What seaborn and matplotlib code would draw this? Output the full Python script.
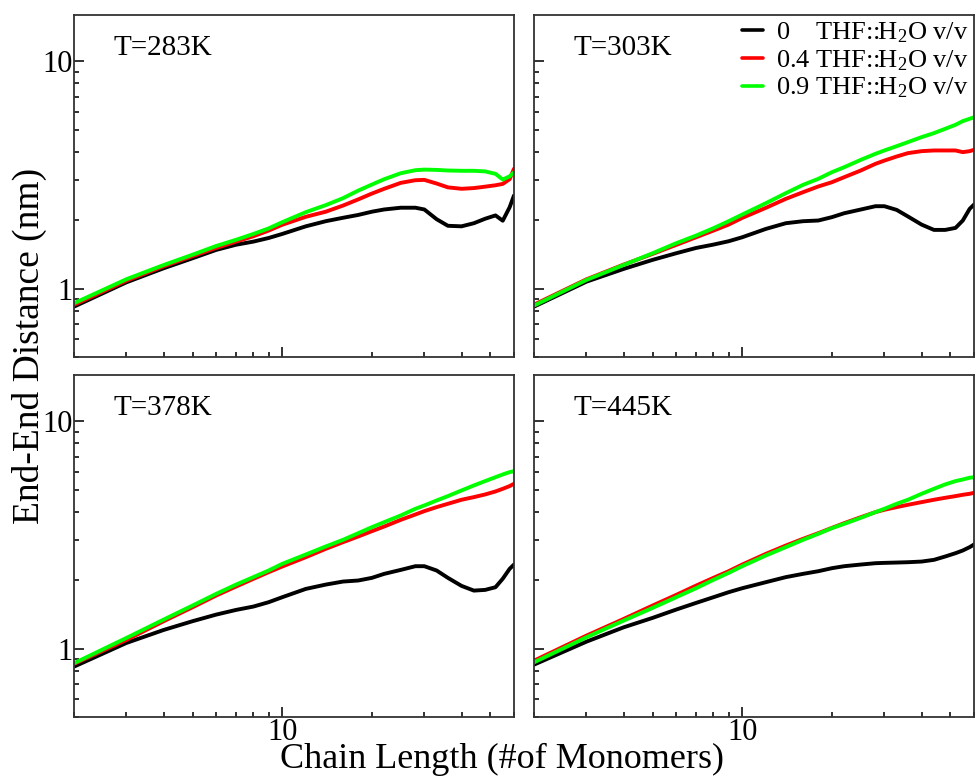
import matplotlib
matplotlib.use('Agg')
import matplotlib.pyplot as plt
import pandas as pd
import seaborn as sns
from matplotlib.ticker import LogLocator, NullFormatter, FixedLocator, FixedFormatter

# chain length (# of monomers)
chain_length = [2, 3, 4, 5, 6, 7, 8, 9, 10, 12, 14, 16, 18, 20, 22, 25, 28, 30,
                33, 36, 40, 44, 48, 52, 55, 58, 60]

# end-end distance (nm), T=283K
r283_00 = [0.833, 1.066, 1.229, 1.36, 1.48, 1.56, 1.61, 1.67, 1.74, 1.88, 1.98, 2.05, 2.11, 2.18,
           2.23, 2.27, 2.27, 2.23, 2.02, 1.89, 1.88, 1.94, 2.03, 2.10, 1.99, 2.28, 2.57]
r283_04 = [0.848, 1.084, 1.254, 1.39, 1.51, 1.61, 1.70, 1.80, 1.91, 2.07, 2.18, 2.32, 2.47, 2.62,
           2.75, 2.92, 3.00, 3.01, 2.90, 2.79, 2.75, 2.77, 2.81, 2.85, 2.89, 3.03, 3.37]
r283_09 = [0.862, 1.10, 1.27, 1.41, 1.54, 1.64, 1.74, 1.84, 1.96, 2.17, 2.33, 2.50, 2.70, 2.87,
           3.03, 3.22, 3.32, 3.34, 3.33, 3.31, 3.30, 3.30, 3.28, 3.20, 3.02, 3.12, 3.25]

# T=303K
r303_00 = [0.833, 1.073, 1.221, 1.338, 1.431, 1.51, 1.562, 1.616, 1.683, 1.831, 1.94, 1.98, 1.994,
           2.063, 2.147, 2.229, 2.305, 2.305, 2.22, 2.077, 1.913, 1.813, 1.813, 1.85, 1.994, 2.244, 2.344]
r303_04 = [0.85, 1.099, 1.276, 1.421, 1.557, 1.683, 1.80, 1.913, 2.048, 2.267, 2.483, 2.657, 2.815,
           2.94, 3.094, 3.31, 3.541, 3.66, 3.815, 3.947, 4.027, 4.055, 4.055, 4.055, 3.987, 4.027, 4.083]
r303_09 = [0.842, 1.092, 1.271, 1.431, 1.584, 1.712, 1.844, 1.98, 2.118, 2.376, 2.63, 2.862, 3.042,
           3.254, 3.423, 3.687, 3.92, 4.055, 4.236, 4.412, 4.642, 4.834, 5.05, 5.26, 5.46, 5.59, 5.68]

# T=378K
r378_00 = [0.833, 1.059, 1.208, 1.32, 1.411, 1.48, 1.531, 1.60, 1.683, 1.831, 1.913, 1.973, 1.994,
           2.048, 2.133, 2.22, 2.305, 2.305, 2.206, 2.048, 1.888, 1.80, 1.813, 1.863, 2.03, 2.244, 2.344]
r378_04 = [0.856, 1.092, 1.32, 1.52, 1.712, 1.876, 2.027, 2.169, 2.297, 2.525, 2.748, 2.94, 3.115,
           3.287, 3.446, 3.687, 3.893, 4.027, 4.195, 4.339, 4.519, 4.642, 4.769, 4.916, 5.05, 5.19, 5.315]
r378_09 = [0.862, 1.114, 1.342, 1.547, 1.741, 1.913, 2.063, 2.206, 2.36, 2.595, 2.815, 3.011, 3.221,
           3.423, 3.602, 3.854, 4.124, 4.266, 4.487, 4.69, 4.966, 5.225, 5.46, 5.68, 5.84, 5.98, 6.04]

# T=445K
r445_00 = [0.85, 1.073, 1.241, 1.365, 1.485, 1.589, 1.683, 1.771, 1.844, 1.96, 2.063, 2.133, 2.191,
           2.259, 2.305, 2.344, 2.376, 2.384, 2.392, 2.40, 2.416, 2.458, 2.543, 2.63, 2.703, 2.796, 2.872]
r445_04 = [0.885, 1.141, 1.351, 1.547, 1.723, 1.894, 2.048, 2.191, 2.344, 2.612, 2.842, 3.042, 3.221,
           3.40, 3.566, 3.789, 3.987, 4.083, 4.195, 4.295, 4.412, 4.519, 4.61, 4.69, 4.753, 4.801, 4.85]
r445_09 = [0.87, 1.122, 1.328, 1.51, 1.683, 1.844, 2.007, 2.154, 2.305, 2.569, 2.796, 3.011, 3.20,
           3.389, 3.541, 3.763, 3.987, 4.124, 4.339, 4.519, 4.801, 5.05, 5.28, 5.46, 5.55, 5.65, 5.68]

temperatures = ['T=283K', 'T=303K', 'T=378K', 'T=445K']
panel_data = [(r283_00, r283_04, r283_09), (r303_00, r303_04, r303_09),
              (r378_00, r378_04, r378_09), (r445_00, r445_04, r445_09)]
ratios = ['0', '0.4', '0.9']
colors = ['#000000', '#ff0000', '#00ff00']
legend_labels = ['0    THF::H$_2$O v/v', '0.4 THF::H$_2$O v/v', '0.9 THF::H$_2$O v/v']

sns.set_theme(style='white')
plt.rcParams['font.family'] = ['Liberation Serif', 'DejaVu Serif']
plt.rcParams['mathtext.fontset'] = 'custom'
plt.rcParams['mathtext.rm'] = 'Liberation Serif'
plt.rcParams['mathtext.it'] = 'Liberation Serif:italic'
plt.rcParams['text.color'] = 'black'
plt.rcParams['xtick.color'] = 'black'
plt.rcParams['ytick.color'] = 'black'
plt.rcParams['axes.labelcolor'] = 'black'

fig, axes = plt.subplots(2, 2, figsize=(9.76, 7.78), dpi=100, sharex=True, sharey=True)
fig.subplots_adjust(left=0.0758, right=0.998, top=0.9807, bottom=0.0784,
                    wspace=0.0455, hspace=0.0526)

for ax, temp, series in zip(axes.flat, temperatures, panel_data):
    rows = []
    for ratio, vals in zip(ratios, series):
        for n, v in zip(chain_length, vals):
            rows.append({'N': n, 'R': v, 'ratio': ratio})
    df = pd.DataFrame(rows)
    sns.lineplot(data=df, x='N', y='R', hue='ratio', palette=colors, ax=ax,
                 linewidth=2.8, legend=False, sort=False)
    ax.set_xscale('log')
    ax.set_yscale('log')
    ax.set_xlim(2, 60)
    ax.set_ylim(0.5, 16)
    ax.set_xlabel('')
    ax.set_ylabel('')
    ax.text(0.089, 0.883, temp, transform=ax.transAxes, fontsize=21, va='baseline')

    ax.xaxis.set_major_locator(FixedLocator([10]))
    ax.xaxis.set_major_formatter(FixedFormatter(['10']))
    ax.xaxis.set_minor_locator(LogLocator(base=10, subs=range(2, 10)))
    ax.xaxis.set_minor_formatter(NullFormatter())
    ax.yaxis.set_major_locator(FixedLocator([1, 10]))
    ax.yaxis.set_major_formatter(FixedFormatter(['1', '10']))
    ax.yaxis.set_minor_locator(LogLocator(base=10, subs=range(2, 10)))
    ax.yaxis.set_minor_formatter(NullFormatter())
    ax.tick_params(which='both', direction='in', top=False, right=False,
                   bottom=True, left=True, color='#222222', width=1.3)
    ax.tick_params(which='major', length=7, labelsize=22, pad=1)
    ax.tick_params(which='minor', length=3.5)
    for sp in ax.spines.values():
        sp.set_color('#333333')
        sp.set_linewidth(1.3)

# legend in the top-right panel
handles = [plt.Line2D([], [], color=c, linewidth=2.6) for c in colors]
axes[0, 1].legend(handles, legend_labels, loc='upper right', bbox_to_anchor=(1.0, 1.0),
                  frameon=False, fontsize=19, handlelength=0.8, handletextpad=0.5,
                  labelspacing=0.12, borderpad=0.1, borderaxespad=0.1)

fig.text(0.514, 0.0129, 'Chain Length (#of Monomers)', ha='center', va='baseline', fontsize=26)
fig.text(0.030, 0.555, 'End-End Distance (nm)', ha='center', va='center',
         rotation=90, fontsize=27)

fig.savefig('out.png', dpi=100)
